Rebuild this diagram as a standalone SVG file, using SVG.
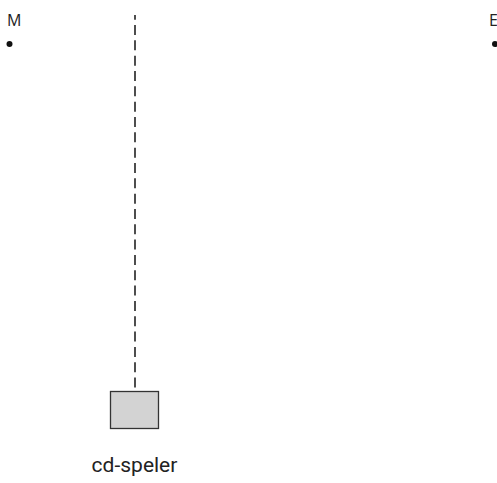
<svg xmlns="http://www.w3.org/2000/svg" width="497" height="483" viewBox="0 0 497 483">
<style>
.lbl{font-family:"Open Sans","Liberation Sans",sans-serif;font-size:16px;fill:#222}
.dot{fill:#111}
.name{font-family:Roboto,"Liberation Sans",sans-serif;font-size:21px;fill:#222}
</style>
<rect width="497" height="483" fill="#fff"/>
<g id="M">
<text class="lbl" x="7" y="26">M</text>
<circle class="dot" cx="9.5" cy="44" r="3"/>
</g>
<g id="E">
<text class="lbl" x="489" y="26">E</text>
<circle class="dot" cx="495" cy="44" r="3"/>
</g>
<g id="connectors">
<line x1="135" y1="15" x2="135" y2="392" stroke="#222" stroke-width="1.6" stroke-dasharray="10 5.33" stroke-dashoffset="5.33"/>
</g>
<g id="cd-speler">
<rect x="110.5" y="391.5" width="48" height="37" fill="#d3d3d3" stroke="#333" stroke-width="1.3"/>
<text class="name" x="134.5" y="472" text-anchor="middle">cd-speler</text>
</g>
</svg>
